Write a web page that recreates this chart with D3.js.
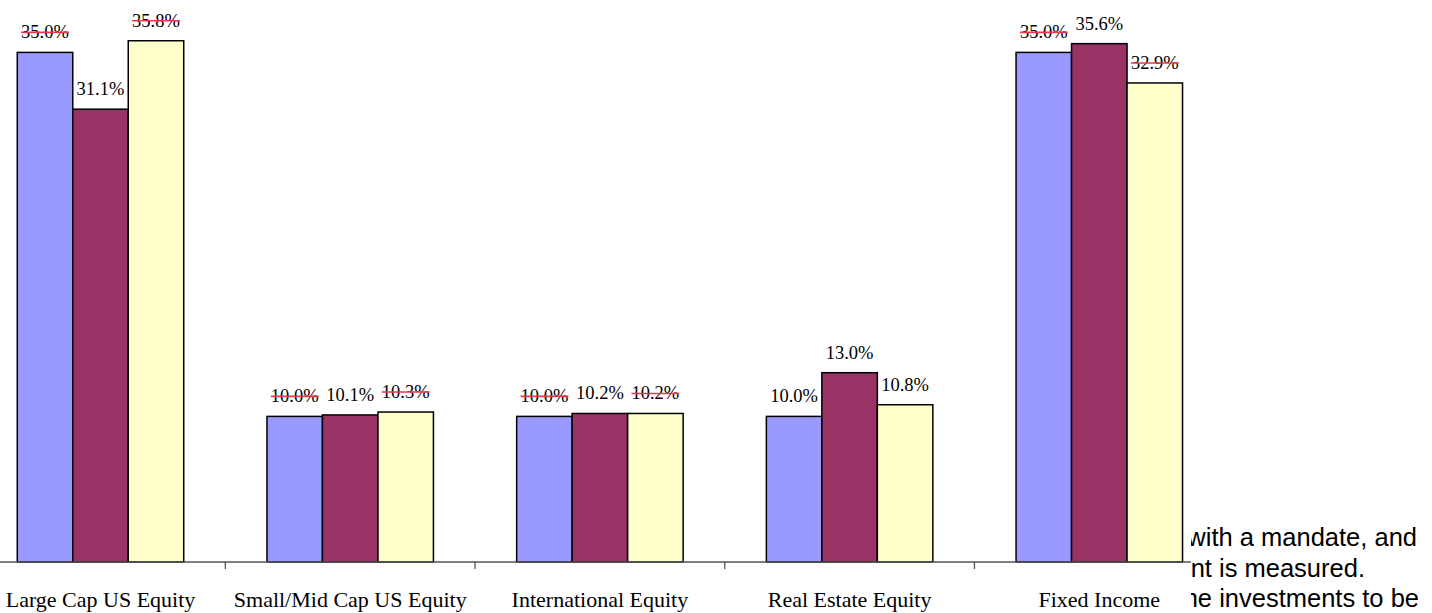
<!DOCTYPE html>
<html>
<head>
<meta charset="utf-8">
<script src="https://cdn.jsdelivr.net/npm/d3@7/dist/d3.min.js"></script>
<style>
  html, body { margin: 0; padding: 0; background: #fff; overflow: hidden; }
  svg { display: block; }
</style>
</head>
<body>
<svg id="chart" width="1432" height="613"></svg>
<script>
// ---- data ----
const categories = ["Large Cap US Equity", "Small/Mid Cap US Equity", "International Equity", "Real Estate Equity", "Fixed Income"];
const series = ["Target", "Prior Actual", "Current Actual"];
const targetValues = [35.0, 10.0, 10.0, 10.0, 35.0];
const priorValues = [31.1, 10.1, 10.2, 13.0, 35.6];
const currentValues = [35.8, 10.3, 10.2, 10.8, 32.9];
const struckTarget = [true, true, true, false, true];
const struckPrior = [false, false, false, false, false];
const struckCurrent = [true, true, true, false, true];
const noteLines = ["with a mandate, and", "nt is measured.", "he investments to be"];

const seriesValues = [targetValues, priorValues, currentValues];
const seriesStruck = [struckTarget, struckPrior, struckCurrent];
const colors = ["#9999FF", "#993366", "#FFFFCC"];

// ---- layout ----
const svg = d3.select("#chart");
const baseY = 562;
const y = d3.scaleLinear().domain([0, 40]).range([baseY, baseY - 40 * 14.56]);
const x0 = d3.scaleBand().domain(categories).range([-24.35, 1224.15]).padding(0);
const x1 = d3.scaleBand().domain(series).range([0, x0.bandwidth()]).paddingInner(0).paddingOuter(0.75);

const rows = [];
categories.forEach((c, ci) => {
  series.forEach((s, si) => {
    rows.push({ cat: c, ser: s, si, value: seriesValues[si][ci], struck: seriesStruck[si][ci] });
  });
});

// bars
svg.append("g").selectAll("rect").data(rows).join("rect")
  .attr("x", d => x0(d.cat) + x1(d.ser))
  .attr("y", d => y(d.value))
  .attr("width", x1.bandwidth())
  .attr("height", d => y(0) - y(d.value))
  .attr("fill", d => colors[d.si])
  .attr("stroke", "#000")
  .attr("stroke-width", 1.5);

// value labels
const lab = svg.append("g").selectAll("g").data(rows).join("g")
  .attr("transform", d => `translate(${x0(d.cat) + x1(d.ser) + x1.bandwidth() / 2},${y(d.value) - 14})`);
lab.append("text")
  .attr("text-anchor", "middle")
  .attr("font-family", "'Liberation Serif', 'Times New Roman', serif")
  .attr("font-size", 18.5)
  .attr("fill", "#000")
  .text(d => d.value.toFixed(1) + "%")
  .each(function (d) { d.w = this.getComputedTextLength(); });
lab.filter(d => d.struck).append("line")
  .attr("x1", d => -d.w / 2)
  .attr("x2", d => d.w / 2)
  .attr("y1", -6).attr("y2", -6)
  .attr("stroke", "#E8384F")
  .attr("stroke-width", 1.6);

// axis line
svg.append("line")
  .attr("x1", 0).attr("x2", x0.range()[1])
  .attr("y1", baseY).attr("y2", baseY)
  .attr("stroke", "#555").attr("stroke-width", 1.3);

// boundary ticks
const bounds = categories.map(c => x0(c)).concat([x0.range()[1]]);
svg.append("g").selectAll("line").data(bounds).join("line")
  .attr("x1", d => d).attr("x2", d => d)
  .attr("y1", baseY).attr("y2", baseY + 7)
  .attr("stroke", "#555").attr("stroke-width", 1.3);

// category labels via axis
const axis = d3.axisBottom(x0).tickSize(0).tickPadding(0);
const ag = svg.append("g").attr("transform", `translate(0,${baseY})`).call(axis);
ag.select(".domain").remove();
ag.selectAll("text")
  .attr("font-family", "'Liberation Serif', 'Times New Roman', serif")
  .attr("font-size", 22)
  .attr("fill", "#000")
  .attr("dy", null)
  .attr("y", 45);

// overlay text box (partially covering the chart)
const defs = svg.append("defs");
defs.append("clipPath").attr("id", "boxclip")
  .append("rect").attr("x", 1191).attr("y", 518).attr("width", 241).attr("height", 95);
svg.append("rect").attr("x", 1191).attr("y", 518).attr("width", 241).attr("height", 95).attr("fill", "#fff");
const ends = [1417, 1365, 1419];
const bases = [545.5, 576.5, 606.5];
svg.append("g").attr("clip-path", "url(#boxclip)").selectAll("text").data(noteLines).join("text")
  .attr("x", (d, i) => ends[i])
  .attr("y", (d, i) => bases[i])
  .attr("text-anchor", "end")
  .attr("font-family", "'Liberation Sans', Arial, sans-serif")
  .attr("font-size", 25.5)
  .attr("fill", "#000")
  .text(d => d);
</script>
</body>
</html>
